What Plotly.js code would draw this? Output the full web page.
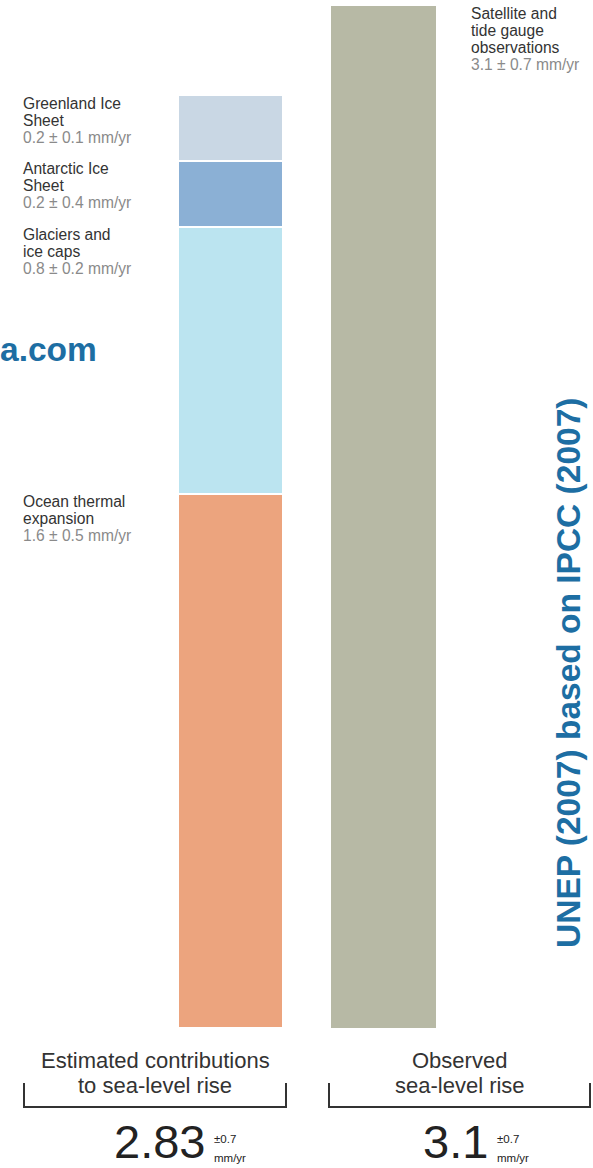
<!DOCTYPE html>
<html>
<head>
<meta charset="utf-8">
<script src="https://cdn.plot.ly/plotly-3.0.1.min.js"></script>
<style>html,body{margin:0;padding:0;background:#fff}#chart{width:593px;height:1168px}</style>
</head>
<body>
<div id="chart"></div>
<script>
// ---- data ----
const categories = ["Estimated contributions", "Observed sea-level rise"];
const componentNames = ["Ocean thermal expansion", "Glaciers and ice caps", "Antarctic Ice Sheet", "Greenland Ice Sheet"];
const componentValues = [1.62, 0.81, 0.20, 0.20];
const componentLabelLines = [["Ocean thermal", "expansion"], ["Glaciers and", "ice caps"], ["Antarctic Ice", "Sheet"], ["Greenland Ice", "Sheet"]];
const componentRanges = ["1.6 ± 0.5 mm/yr", "0.8 ± 0.2 mm/yr", "0.2 ± 0.4 mm/yr", "0.2 ± 0.1 mm/yr"];
const observedValue = 3.1;
const observedLabelLines = ["Satellite and", "tide gauge", "observations"];
const observedRange = "3.1 ± 0.7 mm/yr";
const uncertainty = "±0.7";
const bottomLabels = [["Estimated contributions", "to sea-level rise"], ["Observed", "sea-level rise"]];

// ---- styling ----
const componentColors = ["#eca47e", "#bbe4f0", "#8bb0d5", "#c9d7e4"];
const observedColor = "#b7b9a5";
const W = 593, H = 1168;
const px = x => x / W;
const py = y => 1 - y / H;
const FONT = "Liberation Sans, Arial, sans-serif";
const dark = "#333333", grey = "#8a8a8a", blue = "#1d6ea3";

const traces = componentNames.map((n, i) => ({
  type: "bar", name: n, x: [categories[0]], y: [componentValues[i]],
  width: 0.686, marker: {color: componentColors[i], line: {color: "#ffffff", width: 2}},
  hoverinfo: "name+y"
}));
traces.push({
  type: "bar", name: categories[1], x: [categories[1]], y: [observedValue],
  width: 0.686, marker: {color: observedColor, line: {color: "#ffffff", width: 0}},
  hoverinfo: "y"
});

const annotations = [];
function line(text, xpx, ydata, shift, color, size) {
  annotations.push({xref: "paper", yref: "y", x: px(xpx), y: ydata, xanchor: "left", yanchor: "middle",
    yshift: shift, text: text, showarrow: false, font: {family: FONT, size: size || 15.6, color: color}});
}
let cum = 0;
const tops = componentValues.map(v => (cum += v));
componentLabelLines.forEach((lines, i) => {
  lines.forEach((t, j) => line(t, 21, tops[i], -(8 + 17 * j), dark));
  line(componentRanges[i], 21, tops[i], -(8 + 17 * lines.length), grey);
});
observedLabelLines.forEach((t, j) => line(t, 469, observedValue, -(7 + 17 * j), dark));
line(observedRange, 469, observedValue, -(7 + 17 * observedLabelLines.length), grey);

// bottom labels
const centers = [155, 459.5];
bottomLabels.forEach((lines, i) => {
  lines.forEach((t, j) => annotations.push({xref: "paper", yref: "paper", x: px(centers[i]), y: py(1060 + 25 * j),
    xanchor: "center", yanchor: "middle", text: t, showarrow: false, font: {family: FONT, size: 22, color: dark}}));
});
// totals
const totals = [tops[tops.length - 1].toFixed(2), String(observedValue)];
const totalRight = [206, 489];
totals.forEach((t, i) => {
  annotations.push({xref: "paper", yref: "paper", x: px(totalRight[i]), y: py(1141), xanchor: "right", yanchor: "middle",
    text: t, showarrow: false, borderpad: 0, font: {family: FONT, size: 47, color: "#222"}});
  annotations.push({xref: "paper", yref: "paper", x: px(totalRight[i] + 6), y: py(1139), xanchor: "left", yanchor: "middle",
    text: uncertainty, showarrow: false, font: {family: FONT, size: 11.5, color: "#222"}});
  annotations.push({xref: "paper", yref: "paper", x: px(totalRight[i] + 6), y: py(1158), xanchor: "left", yanchor: "middle",
    text: "mm/yr", showarrow: false, font: {family: FONT, size: 11.5, color: "#222"}});
});
// watermark & source
annotations.push({xref: "paper", yref: "paper", x: px(-2), y: py(350), xanchor: "left", yanchor: "middle",
  text: "<b>a.com</b>", showarrow: false, font: {family: FONT, size: 33.5, color: blue}});
annotations.push({xref: "paper", yref: "paper", x: px(568), y: py(673), xanchor: "center", yanchor: "middle", textangle: -90,
  text: "<b>UNEP (2007) based on IPCC (2007)</b>", showarrow: false, font: {family: FONT, size: 33.5, color: blue}});

const bracket = (x0, x1) => ({type: "path", xref: "paper", yref: "paper",
  path: `M ${px(x0)} ${py(1083)} L ${px(x0)} ${py(1107)} L ${px(x1)} ${py(1107)} L ${px(x1)} ${py(1083)}`,
  line: {color: "#333", width: 2}});

const scale = (1028 - 6) / observedValue;
const layout = {
  width: W, height: H, margin: {l: 0, r: 0, t: 0, b: 0},
  paper_bgcolor: "#fff", plot_bgcolor: "#fff", showlegend: false, barmode: "stack",
  xaxis: {type: "category", range: [-230.5 / 153, 1 + (W - 383.5) / 153], visible: false, fixedrange: true},
  yaxis: {range: [-(H - 1028) / scale, observedValue + 6 / scale], visible: false, fixedrange: true},
  annotations: annotations,
  shapes: [bracket(24, 286), bracket(329, 590)]
};
Plotly.newPlot("chart", traces, layout, {displayModeBar: false, staticPlot: true});
</script>
</body>
</html>
